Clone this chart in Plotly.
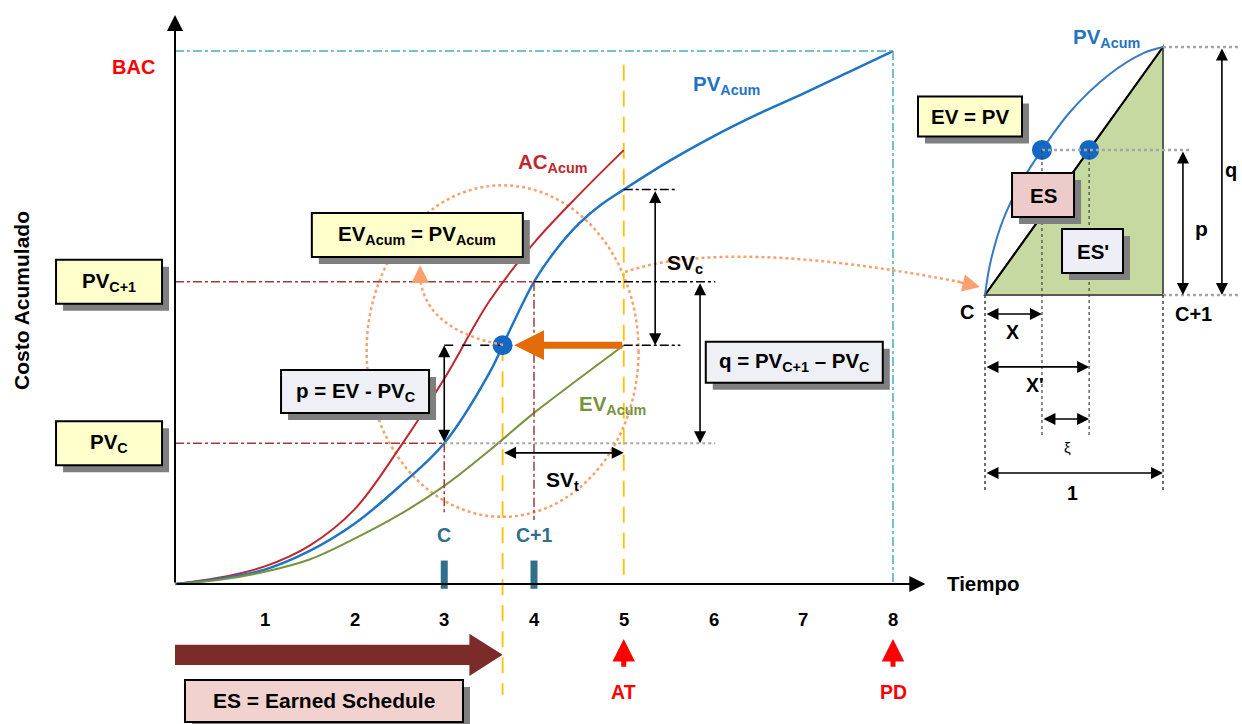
import plotly.graph_objects as go

# ---------------- data ----------------
time_pts = [0, 0.5, 1, 1.5, 2, 2.5, 3, 3.5, 3.75, 4, 4.25, 4.5, 4.75, 5, 5.5, 6, 6.5, 7, 7.5, 8]
pv_acum = [0, 1.0, 2.7, 6.2, 11.3, 18.3, 26.4, 39.5, 48.3, 56.7, 62.8, 67.6, 71.2, 74.0, 79.3, 84.0, 88.2, 92.0, 96.0, 100]
time_to_at = [0, 0.5, 1, 1.5, 2, 2.5, 3, 3.5, 4, 4.5, 5]
ac_acum = [0, 1.2, 3.3, 7.2, 14.0, 25.5, 38.5, 53.0, 64.0, 73.0, 81.4]
ev_acum = [0, 0.8, 2.3, 4.6, 8.5, 13.0, 18.4, 25.0, 32.1, 38.5, 44.8]
period_ticks = [1, 2, 3, 4, 5, 6, 7, 8]
period_labels = ["1", "2", "3", "4", "5", "6", "7", "8"]

C_PERIOD, C1_PERIOD = 3, 4
ES_TIME, AT_TIME, PD_TIME = 3.65, 5, 8
BAC_VALUE = 100
PV_C, PV_C1, EV_AT, PV_AT = 26.4, 56.7, 44.8, 74.0

# inset (normalised period C .. C+1)
inset_x = [0, 0.03, 0.1, 0.2, 0.32, 0.48, 0.7, 0.89, 1.0]
inset_pv = [0, 0.13, 0.30, 0.45, 0.585, 0.74, 0.89, 0.975, 1.0]
INSET_ES = 0.32
INSET_EV = 0.585

# ---------------- style ----------------
FONT = "Liberation Sans, Arial, sans-serif"
BLUE = "#1F74C4"
RED = "#C0272D"
GREEN = "#77933C"
TEAL = "#31708A"
ORANGE = "#E36C09"
ORANGE_DOT = "#F9A06E"
YELLOW = "#FFC000"
BROWN = "#A33A3A"
BRIGHT_RED = "#FF0000"
TS = 20.5  # main text size

shapes = []
annotations = []


def f(size=TS, color="black", weight="bold", family=FONT):
    return dict(family=family, size=size, color=color, weight=weight)


def line(x0, y0, x1, y1, color, width=1.5, dash="solid", ref="", layer="above"):
    shapes.append(dict(type="line", xref="x" + ref, yref="y" + ref, x0=x0, y0=y0, x1=x1, y1=y1,
                       line=dict(color=color, width=width, dash=dash), layer=layer))


def box(x, y, w, h, text, fill, ref="", size=TS):
    common = dict(type="rect", xref="x" + ref, yref="y" + ref, xsizemode="pixel", ysizemode="pixel",
                  xanchor=x, yanchor=y, layer="above")
    shapes.append(dict(common, x0=-w / 2 + 7, x1=w / 2 + 7, y0=-h / 2 - 7, y1=h / 2 - 7,
                       fillcolor="#7F7F7F", line=dict(width=0)))
    shapes.append(dict(common, x0=-w / 2, x1=w / 2, y0=-h / 2, y1=h / 2,
                       fillcolor=fill, line=dict(color="black", width=2)))
    annotations.append(dict(x=x, y=y, xref="x" + ref, yref="y" + ref, text=text, showarrow=False,
                            font=f(size), xanchor="center", yanchor="middle"))


def label(x, y, text, color="black", size=TS, ref="", xanchor="center", weight="bold", **kw):
    annotations.append(dict(x=x, y=y, xref="x" + ref, yref="y" + ref, text=text, showarrow=False,
                            font=f(size, color, weight), xanchor=xanchor, yanchor="middle", **kw))


def arrow(x0, y0, x1, y1, ref="", color="black", width=1.6, size=1.5, both=True, head=2):
    a = dict(x=x1, y=y1, ax=x0, ay=y0, xref="x" + ref, yref="y" + ref, axref="x" + ref, ayref="y" + ref,
             text="", showarrow=True, arrowhead=head, arrowsize=size, arrowwidth=width, arrowcolor=color,
             standoff=0)
    if both:
        a.update(arrowside="end+start", startarrowhead=head, startarrowsize=size, startstandoff=0)
    annotations.append(a)


# ---------------- main chart decorations ----------------
shapes.append(dict(type="circle", xref="x", yref="y", x0=ES_TIME - 1.515, x1=ES_TIME + 1.515,
                   y0=EV_AT - 1.1 - 31.1, y1=EV_AT - 1.1 + 31.1,
                   line=dict(color=ORANGE_DOT, width=2.5, dash="dot"), layer="below"))

line(0, BAC_VALUE, PD_TIME, BAC_VALUE, "#4BACC6", 1.5, "dashdot")
line(PD_TIME, BAC_VALUE, PD_TIME, 0, "#4BACC6", 1.5, "dashdot")

line(0, PV_C1, C1_PERIOD, PV_C1, BROWN, 1.5, "dashdot")
line(C1_PERIOD, PV_C1, 6.02, PV_C1, "black", 1.5, "dashdot")
line(0, PV_C, C_PERIOD, PV_C, BROWN, 1.5, "dashdot")
line(C_PERIOD, PV_C, 6.02, PV_C, "#A6A6A6", 2, "dot")
line(C_PERIOD, PV_C, C_PERIOD, 12.9, BROWN, 1.5, "dashdot")
line(C1_PERIOD, PV_C1, C1_PERIOD, 12.0, BROWN, 1.5, "dashdot")

line(ES_TIME, EV_AT, ES_TIME, -20.8, YELLOW, 1.8, "16px,10px", layer="below")
line(AT_TIME, 97.4, AT_TIME, 0, YELLOW, 1.8, "16px,10px", layer="below")

line(C_PERIOD, EV_AT, ES_TIME, EV_AT, "black", 1.5, "dash")
line(AT_TIME, EV_AT, 5.63, EV_AT, "black", 1.5, "dashdot")
line(AT_TIME, PV_AT, 5.6, PV_AT, "black", 1.5, "dashdot")

line(C_PERIOD, -0.9, C_PERIOD, 4.4, TEAL, 7)
line(C1_PERIOD, -0.9, C1_PERIOD, 4.4, TEAL, 7)

es_row, sh, hh, hl = -13.3, 1.9, 3.95, 0.37
shapes.append(dict(type="path", xref="x", yref="y", fillcolor="#7B2C28", line=dict(width=0),
                   path=(f"M 0,{es_row - sh} L {ES_TIME - hl},{es_row - sh} L {ES_TIME - hl},{es_row - hh} "
                         f"L {ES_TIME},{es_row} L {ES_TIME - hl},{es_row + hh} L {ES_TIME - hl},{es_row + sh} "
                         f"L 0,{es_row + sh} Z")))

shapes.append(dict(type="path", xref="x", yref="y", path="M 3.655,44.84 Q 2.786,47.65 2.73,57.6",
                   line=dict(color=ORANGE_DOT, width=2.5, dash="dot")))
arrow(2.732, 57.3, 2.73, 59.8, color=ORANGE_DOT, width=2.5, size=1.4, both=False)
shapes.append(dict(type="path", xref="x", yref="y", path="M 5.014,58.54 Q 6.156,65.10 8.746,56.66",
                   line=dict(color=ORANGE_DOT, width=2.5, dash="dot")))
arrow(8.70, 56.8, 8.969, 55.72, color=ORANGE_DOT, width=2.5, size=1.4, both=False)

box(-0.735, PV_C1, 106, 44, "PV<sub>C+1</sub>", "#FFFFCC")
box(-0.735, PV_C, 106, 44, "PV<sub>C</sub>", "#FFFFCC")
box(2.70, 65.5, 211, 44, "EV<sub>Acum</sub> = PV<sub>Acum</sub>", "#FFFFCC")
box(2.006, 36.1, 148, 43, "p = EV - PV<sub>C</sub>", "#EEF0F6")
box(6.90, 41.6, 177, 41, "q = PV<sub>C+1</sub> \u2013 PV<sub>C</sub>", "#EEF0F6")
box(1.66, -21.95, 278, 42, "ES = Earned Schedule", "#F2D2CE", size=21)

arrow(C_PERIOD, PV_C, C_PERIOD, EV_AT)
arrow(5.35, PV_AT, 5.35, EV_AT)
arrow(5.85, PV_C1, 5.85, PV_C)
arrow(ES_TIME, 24.6, AT_TIME, 24.6)

arrow(AT_TIME, EV_AT, ES_TIME + 0.13, EV_AT, color=ORANGE, width=7, size=0.85, both=False)

arrow(0, 0, 0, 106.75, width=2, size=1.6, both=False)
arrow(0, 0, 8.36, 0, width=2, size=1.6, both=False)

arrow(AT_TIME, -15.8, AT_TIME, -10.3, color=BRIGHT_RED, width=5, size=0.9, both=False)
arrow(PD_TIME, -15.8, PD_TIME, -10.3, color=BRIGHT_RED, width=5, size=0.9, both=False)

label(-0.468, 97.0, "BAC", BRIGHT_RED, 20)
label(4.21, 79.0, "AC<sub>Acum</sub>", RED)
label(6.15, 93.6, "PV<sub>Acum</sub>", BLUE)
label(4.87, 33.6, "EV<sub>Acum</sub>", GREEN)
label(5.68, 60.0, "SV<sub>c</sub>", "black", 21)
label(4.32, 19.3, "SV<sub>t</sub>", "black", 21)
label(C_PERIOD, 9.2, "C", TEAL, 19.5)
label(C1_PERIOD, 9.2, "C+1", TEAL, 19.5)
for tv, tl in zip(period_ticks, period_labels):
    label(tv, -6.75, tl, "black", 18.5)
label(AT_TIME, -20.3, "AT", BRIGHT_RED, 19.5)
label(PD_TIME, -20.3, "PD", BRIGHT_RED, 19.5)
label(8.58, 0, "Tiempo", "black", 20.5, xanchor="left")
annotations.append(dict(x=-1.705, y=53.3, xref="x", yref="y", text="Costo Acumulado", showarrow=False,
                        textangle=-90, font=f(21)))

# ---------------- inset decorations ----------------
shapes.append(dict(type="path", xref="x2", yref="y2", path="M 0,0 L 1,0 L 1,1 Z",
                   fillcolor="#C6D9A0", line=dict(color="#595959", width=2), layer="below"))
line(0, 0, 1, 1, "black", 2, ref="2", layer="below")
line(1, 1, 1.43, 1, "#A6A6A6", 2.5, "dot", ref="2")
line(1, 0, 1.43, 0, "#A6A6A6", 2.5, "dot", ref="2")
line(INSET_ES, INSET_EV, 1.163, INSET_EV, "#A6A6A6", 2.5, "dot", ref="2")
line(0, 0, 0, -0.794, "#404040", 1.5, "dot", ref="2")
line(1, 0, 1, -0.794, "#404040", 1.5, "dot", ref="2")
line(INSET_ES, INSET_EV, INSET_ES, -0.573, "#404040", 1.2, "dot", ref="2")
line(INSET_EV, INSET_EV, INSET_EV, -0.573, "#404040", 1.2, "dot", ref="2")

box(-0.0843, 0.7198, 104, 40, "EV = PV", "#FFFFCC", ref="2")
box(0.326, 0.403, 62, 44, "ES", "#EECBCB", ref="2")
box(0.604, 0.177, 61, 44, "ES'", "#EEEEF6", ref="2")

arrow(0, -0.0766, INSET_ES, -0.0766, ref="2")
arrow(0, -0.290, INSET_EV, -0.290, ref="2")
arrow(INSET_ES, -0.5, INSET_EV, -0.5, ref="2")
arrow(0, -0.718, 1, -0.718, ref="2")
arrow(1.112, INSET_EV, 1.112, 0, ref="2")
arrow(1.331, 1, 1.331, 0, ref="2")

label(0.685, 1.036, "PV<sub>Acum</sub>", BLUE, ref="2")
label(-0.101, -0.0685, "C", "black", 20, ref="2")
label(1.169, -0.0766, "C+1", "black", 20, ref="2")
label(0.157, -0.149, "X", "black", 19.5, ref="2")
label(0.281, -0.363, "X'", "black", 19.5, ref="2")
label(0.466, -0.613, "\u03be", "black", 15, ref="2", weight="normal")
label(0.489, -0.798, "1", "black", 19.5, ref="2")
label(1.219, 0.27, "p", "black", 21, ref="2")
label(1.425, 0.504, "q", "black", 20, ref="2", xanchor="right")

# ---------------- traces ----------------
fig = go.Figure()
fig.add_trace(go.Scatter(x=time_to_at, y=ac_acum, mode="lines", line=dict(color=RED, width=2, shape="spline"),
                         name="AC", hoverinfo="skip"))
fig.add_trace(go.Scatter(x=time_pts, y=pv_acum, mode="lines", line=dict(color=BLUE, width=2.5, shape="spline"),
                         name="PV", hoverinfo="skip"))
fig.add_trace(go.Scatter(x=time_to_at, y=ev_acum, mode="lines", line=dict(color=GREEN, width=2, shape="spline"),
                         name="EV", hoverinfo="skip"))
fig.add_trace(go.Scatter(x=[ES_TIME], y=[EV_AT], mode="markers", marker=dict(color="#1268C4", size=20),
                         name="ES", hoverinfo="skip"))
fig.add_trace(go.Scatter(x=inset_x, y=inset_pv, mode="lines", xaxis="x2", yaxis="y2",
                         line=dict(color="#3A78C2", width=2, shape="spline"), name="PV inset", hoverinfo="skip"))
fig.add_trace(go.Scatter(x=[INSET_ES, INSET_EV], y=[INSET_EV, INSET_EV], mode="markers", xaxis="x2", yaxis="y2",
                         marker=dict(color="#1268C4", size=20), name="dots", hoverinfo="skip"))

fig.update_layout(
    width=1242, height=724, margin=dict(l=0, r=0, t=0, b=0),
    paper_bgcolor="white", plot_bgcolor="rgba(0,0,0,0)", showlegend=False,
    xaxis=dict(range=[-1.9499, 11.8886], domain=[0, 1], visible=False, fixedrange=True),
    yaxis=dict(range=[-26.27, 109.57], domain=[0, 1], visible=False, fixedrange=True),
    xaxis2=dict(range=[-5.5337, 1.4438], domain=[0, 1], overlaying="x", anchor="y2", visible=False),
    yaxis2=dict(range=[-1.7298, 1.1895], domain=[0, 1], overlaying="y", anchor="x2", visible=False),
    shapes=shapes, annotations=annotations,
)

fig.write_html("out.html", config={"displayModeBar": False},
               post_script="document.body.style.margin='0px';")
